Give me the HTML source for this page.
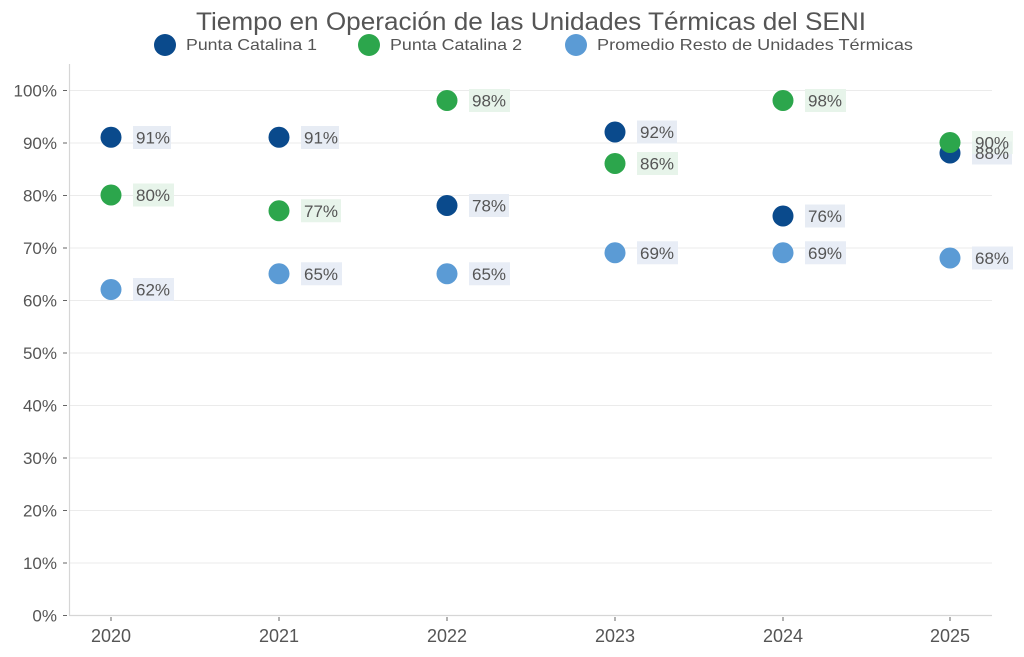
<!DOCTYPE html>
<html><head><meta charset="utf-8"><style>
html,body{margin:0;padding:0;background:#fff;}
svg{display:block;font-family:"Liberation Sans",sans-serif;}
</style></head><body>
<svg width="1024" height="657" viewBox="0 0 1024 657" xmlns="http://www.w3.org/2000/svg">
<rect width="1024" height="657" fill="#fff"/>
<!-- title -->
<text x="531" y="30" text-anchor="middle" font-size="25" fill="#555" textLength="670" lengthAdjust="spacingAndGlyphs">Tiempo en Operación de las Unidades Térmicas del SENI</text>
<!-- legend -->
<circle cx="165" cy="45" r="11" fill="#0a4a8c"/>
<text x="186" y="50" font-size="16" fill="#555" textLength="131" lengthAdjust="spacingAndGlyphs">Punta Catalina 1</text>
<circle cx="369" cy="45" r="11" fill="#2ca64c"/>
<text x="390" y="50" font-size="16" fill="#555" textLength="132" lengthAdjust="spacingAndGlyphs">Punta Catalina 2</text>
<circle cx="576" cy="45" r="11" fill="#5b9bd5"/>
<text x="597" y="50" font-size="16" fill="#555" textLength="316" lengthAdjust="spacingAndGlyphs">Promedio Resto de Unidades Térmicas</text>
<!-- gridlines -->
<g stroke="#ebebeb" stroke-width="1">
<line x1="69" x2="992" y1="90.5" y2="90.5"/>
<line x1="69" x2="992" y1="143" y2="143"/>
<line x1="69" x2="992" y1="195.5" y2="195.5"/>
<line x1="69" x2="992" y1="248" y2="248"/>
<line x1="69" x2="992" y1="300.5" y2="300.5"/>
<line x1="69" x2="992" y1="353" y2="353"/>
<line x1="69" x2="992" y1="405.5" y2="405.5"/>
<line x1="69" x2="992" y1="458" y2="458"/>
<line x1="69" x2="992" y1="510.5" y2="510.5"/>
<line x1="69" x2="992" y1="563" y2="563"/>
</g>
<!-- axes -->
<line x1="69.5" x2="69.5" y1="64" y2="616" stroke="#d6d6d6" stroke-width="1.2"/>
<line x1="69" x2="992" y1="615.5" y2="615.5" stroke="#d6d6d6" stroke-width="1.2"/>
<!-- y ticks -->
<g stroke="#666" stroke-width="1">
<line x1="63" x2="67" y1="90.5" y2="90.5"/>
<line x1="63" x2="67" y1="143" y2="143"/>
<line x1="63" x2="67" y1="195.5" y2="195.5"/>
<line x1="63" x2="67" y1="248" y2="248"/>
<line x1="63" x2="67" y1="300.5" y2="300.5"/>
<line x1="63" x2="67" y1="353" y2="353"/>
<line x1="63" x2="67" y1="405.5" y2="405.5"/>
<line x1="63" x2="67" y1="458" y2="458"/>
<line x1="63" x2="67" y1="510.5" y2="510.5"/>
<line x1="63" x2="67" y1="563" y2="563"/>
<line x1="63" x2="67" y1="615.5" y2="615.5"/>
</g>
<g font-size="17" fill="#555" text-anchor="end">
<text x="57" y="96.5">100%</text>
<text x="57" y="149">90%</text>
<text x="57" y="201.5">80%</text>
<text x="57" y="254">70%</text>
<text x="57" y="306.5">60%</text>
<text x="57" y="359">50%</text>
<text x="57" y="411.5">40%</text>
<text x="57" y="464">30%</text>
<text x="57" y="516.5">20%</text>
<text x="57" y="569">10%</text>
<text x="57" y="621.5">0%</text>
</g>
<!-- x ticks -->
<g stroke="#666" stroke-width="1">
<line x1="111" x2="111" y1="617" y2="621"/>
<line x1="279" x2="279" y1="617" y2="621"/>
<line x1="447" x2="447" y1="617" y2="621"/>
<line x1="615" x2="615" y1="617" y2="621"/>
<line x1="783" x2="783" y1="617" y2="621"/>
<line x1="950" x2="950" y1="617" y2="621"/>
</g>
<g font-size="18" fill="#555" text-anchor="middle">
<text x="111" y="642">2020</text>
<text x="279" y="642">2021</text>
<text x="447" y="642">2022</text>
<text x="615" y="642">2023</text>
<text x="783" y="642">2024</text>
<text x="950" y="642">2025</text>
</g>
<!-- Punta Catalina 1 -->
<g fill="#0a4a8c">
<circle cx="111" cy="137.25" r="10.5"/>
<circle cx="279" cy="137.25" r="10.5"/>
<circle cx="447" cy="205.5" r="10.5"/>
<circle cx="615" cy="132" r="10.5"/>
<circle cx="783" cy="216" r="10.5"/>
<circle cx="950" cy="153" r="10.5"/>
</g>
<!-- Punta Catalina 2 -->
<g fill="#2ca64c">
<circle cx="111" cy="195" r="10.5"/>
<circle cx="279" cy="210.75" r="10.5"/>
<circle cx="447" cy="100.5" r="10.5"/>
<circle cx="615" cy="163.5" r="10.5"/>
<circle cx="783" cy="100.5" r="10.5"/>
<circle cx="950" cy="142.5" r="10.5"/>
</g>
<!-- Promedio -->
<g fill="#5b9bd5">
<circle cx="111" cy="289.5" r="10.5"/>
<circle cx="279" cy="273.75" r="10.5"/>
<circle cx="447" cy="273.75" r="10.5"/>
<circle cx="615" cy="252.75" r="10.5"/>
<circle cx="783" cy="252.75" r="10.5"/>
<circle cx="950" cy="258" r="10.5"/>
</g>
<!-- label boxes -->
<g>
<rect x="133" y="126" width="38" height="23" fill="#e7ecf4"/>
<rect x="301" y="126" width="38" height="23" fill="#e7ecf4"/>
<rect x="469" y="194" width="40" height="23" fill="#e7ecf4"/>
<rect x="637" y="120.5" width="40" height="23" fill="#e7ecf4"/>
<rect x="805" y="204.5" width="40" height="23" fill="#e7ecf4"/>
<rect x="972" y="141.5" width="40" height="23" fill="#e7ecf4"/>

<rect x="133" y="183.5" width="41" height="23" fill="#e7f4ea"/>
<rect x="301" y="199.25" width="40" height="23" fill="#e7f4ea"/>
<rect x="469" y="89" width="41" height="23" fill="#e7f4ea"/>
<rect x="637" y="152" width="41" height="23" fill="#e7f4ea"/>
<rect x="805" y="89" width="41" height="23" fill="#e7f4ea"/>
<rect x="972" y="131" width="41" height="23" fill="#e7f4ea" fill-opacity="0.7"/>

<rect x="133" y="278" width="41" height="23" fill="#e8edf6"/>
<rect x="301" y="262.25" width="41" height="23" fill="#e8edf6"/>
<rect x="469" y="262.25" width="41" height="23" fill="#e8edf6"/>
<rect x="637" y="241.25" width="41" height="23" fill="#e8edf6"/>
<rect x="805" y="241.25" width="41" height="23" fill="#e8edf6"/>
<rect x="972" y="246.5" width="41" height="23" fill="#e8edf6"/>
</g>
<g font-size="17" fill="#555">
<text x="136" y="143.5">91%</text>
<text x="304" y="143.5">91%</text>
<text x="472" y="211.5">78%</text>
<text x="640" y="138">92%</text>
<text x="808" y="222">76%</text>
<text x="975" y="159">88%</text>

<text x="136" y="201">80%</text>
<text x="304" y="216.75">77%</text>
<text x="472" y="106.5">98%</text>
<text x="640" y="169.5">86%</text>
<text x="808" y="106.5">98%</text>
<text x="975" y="148.5">90%</text>

<text x="136" y="295.5">62%</text>
<text x="304" y="279.75">65%</text>
<text x="472" y="279.75">65%</text>
<text x="640" y="258.75">69%</text>
<text x="808" y="258.75">69%</text>
<text x="975" y="264">68%</text>
</g>
</svg>
</body></html>
